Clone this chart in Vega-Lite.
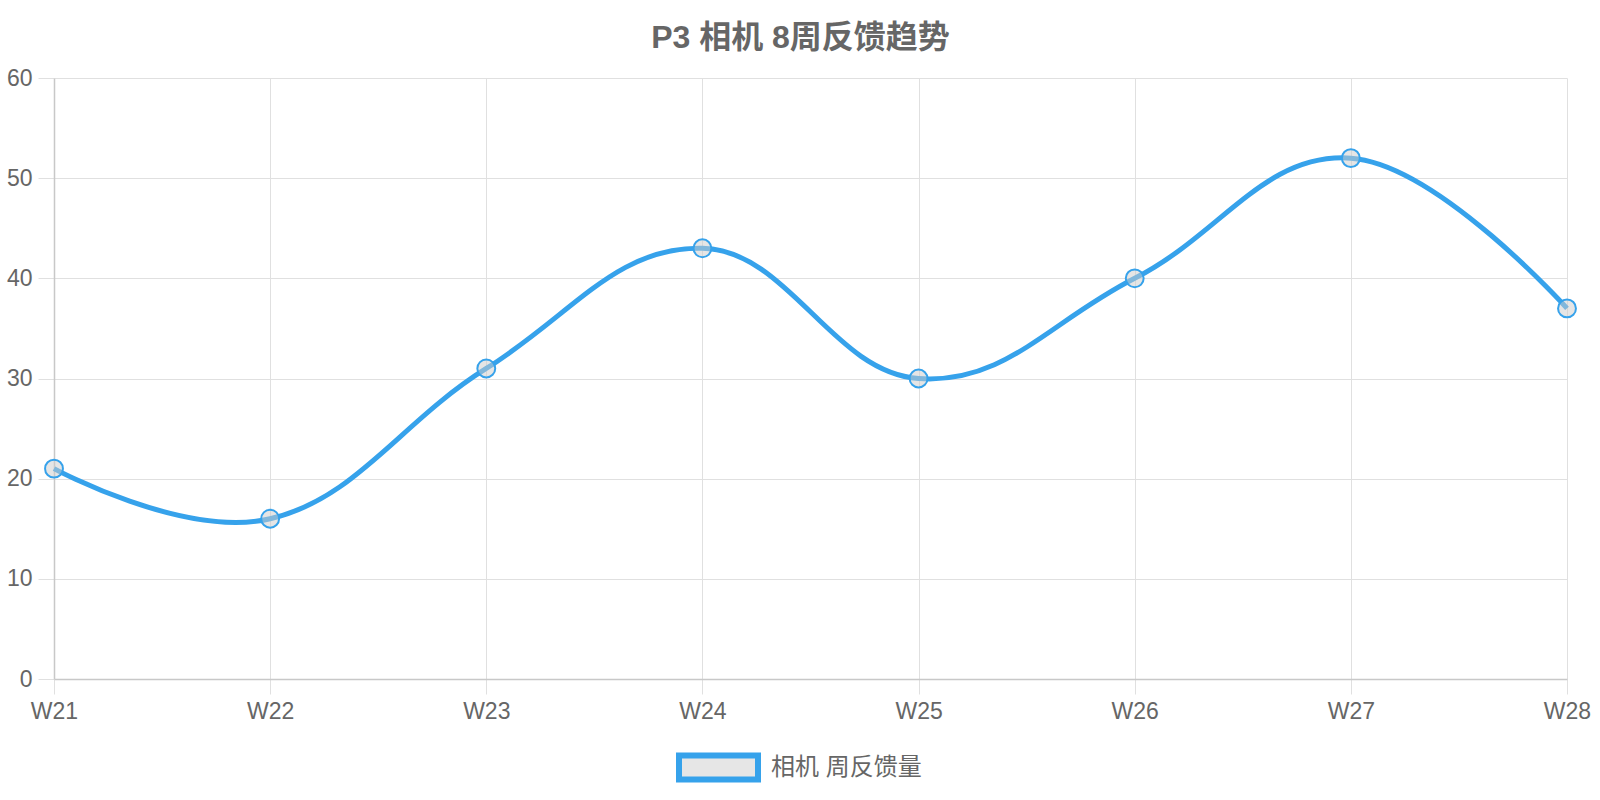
{
  "$schema": "https://vega.github.io/schema/vega-lite/v6.json",
  "autosize": {"type": "none"},
  "width": 1513,
  "height": 601,
  "padding": {"left": 54, "top": 78, "right": 33, "bottom": 121},
  "background": "white",
  "config": {
    "font": "Liberation Sans, Noto Sans CJK SC",
    "view": {"stroke": null}
  },
  "title": {
    "text": "P3 相机 8周反馈趋势",
    "fontSize": 32,
    "fontWeight": "bold",
    "color": "#666666",
    "anchor": "middle",
    "offset": 12,
    "dx": -10,
    "font": "Liberation Sans, Noto Sans CJK SC"
  },
  "data": {
    "values": [
      {"week": "W21", "value": 21, "series": "相机 周反馈量"},
      {"week": "W22", "value": 16, "series": "相机 周反馈量"},
      {"week": "W23", "value": 31, "series": "相机 周反馈量"},
      {"week": "W24", "value": 43, "series": "相机 周反馈量"},
      {"week": "W25", "value": 30, "series": "相机 周反馈量"},
      {"week": "W26", "value": 40, "series": "相机 周反馈量"},
      {"week": "W27", "value": 52, "series": "相机 周反馈量"},
      {"week": "W28", "value": 37, "series": "相机 周反馈量"}
    ]
  },
  "encoding": {
    "x": {
      "field": "week",
      "type": "ordinal",
      "scale": {"type": "point", "padding": 0},
      "axis": {
        "title": null,
        "labelAngle": 0,
        "labelFontSize": 23,
        "labelColor": "#666666",
        "labelPadding": 6,
        "tickSize": 15,
        "tickColor": "#e0e0e0",
        "domainColor": "#c8c8c8",
        "domainWidth": 1.5,
        "grid": true,
        "gridColor": "#e0e0e0",
        "gridWidth": 1,
        "labelFont": "Liberation Sans"
      }
    },
    "y": {
      "field": "value",
      "type": "quantitative",
      "scale": {"domain": [0, 60], "nice": false},
      "axis": {
        "title": null,
        "values": [0, 10, 20, 30, 40, 50, 60],
        "labelFontSize": 23,
        "labelColor": "#666666",
        "labelPadding": 6,
        "tickSize": 16,
        "tickColor": "#e0e0e0",
        "domainColor": "#c8c8c8",
        "domainWidth": 1.5,
        "grid": true,
        "gridColor": "#e0e0e0",
        "gridWidth": 1,
        "labelFont": "Liberation Sans"
      }
    }
  },
  "layer": [
    {
      "mark": {"type": "line", "strokeWidth": 5, "interpolate": "cardinal", "tension": -0.2},
      "encoding": {
        "color": {
          "field": "series",
          "type": "nominal",
          "scale": {"range": ["#36A2EB"]},
          "legend": {
            "title": null,
            "orient": "none",
            "legendX": 622,
            "legendY": 647,
            "padding": 0,
            "direction": "horizontal",
            "labelFontSize": 24,
            "labelColor": "#666666",
            "labelOffset": 10,
            "symbolType": "M-1,-0.304L1,-0.304L1,0.304L-1,0.304Z",
            "symbolSize": 6241,
            "symbolStrokeWidth": 6,
            "symbolFillColor": "#e6e6e6",
            "symbolStrokeColor": "#36A2EB",
            "labelFont": "Liberation Sans, Noto Sans CJK SC",
            "encode": {
              "symbols": {
                "update": {
                  "fill": {"value": "#e6e6e6"},
                  "stroke": {"value": "#36A2EB"},
                  "strokeWidth": {"value": 6},
                  "opacity": {"value": 1},
                  "fillOpacity": {"value": 1}
                }
              }
            }
          }
        }
      }
    },
    {
      "mark": {
        "type": "point",
        "shape": "circle",
        "size": 320,
        "filled": true,
        "fill": "#cccccc",
        "fillOpacity": 0.5,
        "stroke": "#36A2EB",
        "strokeWidth": 2,
        "opacity": 1
      }
    }
  ]
}
